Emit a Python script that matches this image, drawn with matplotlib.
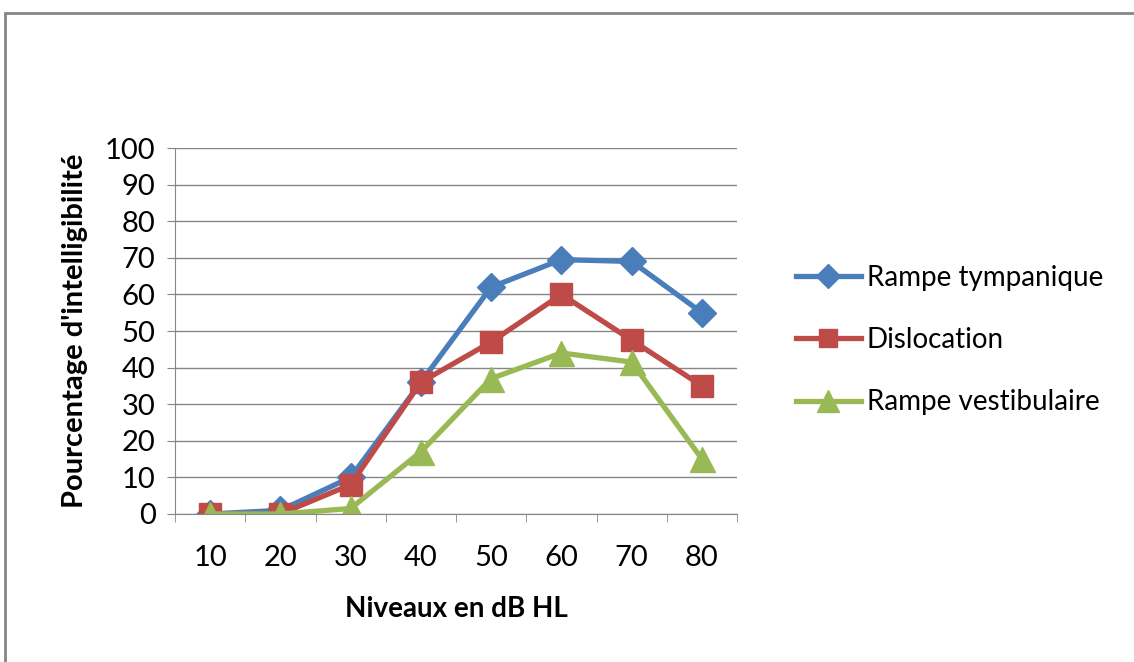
import matplotlib
matplotlib.use("Agg")
from matplotlib import pyplot as plt
from matplotlib.patches import Rectangle

niveaux = ["10", "20", "30", "40", "50", "60", "70", "80"]
tympanique = [0, 1, 10, 36, 62, 69.5, 69, 55]
dislocation = [0, 0, 8, 36, 47, 60, 47.5, 35]
vestibulaire = [0, 0, 1.5, 17, 37, 44, 41.5, 15]

plt.rcParams['font.family'] = ['Lato', 'DejaVu Sans']

fig = plt.figure(figsize=(11.34, 6.62), dpi=100)
fig.patches.append(Rectangle((0.004, -0.1), 1.2, 1.08, transform=fig.transFigure,
                             fill=False, edgecolor='#868686', linewidth=2))

ax = fig.add_axes([0.1543, 0.2236, 0.4957, 0.5528])
x = list(range(len(niveaux)))

ax.plot(x, tympanique, color='#4a7ebb', lw=3.8, marker='D', ms=14,
        label='Rampe tympanique')
ax.plot(x, dislocation, color='#be4b48', lw=3.8, marker='s', ms=16,
        label='Dislocation')
ax.plot(x, vestibulaire, color='#98b954', lw=3.8, marker='^', ms=18,
        label='Rampe vestibulaire')

ax.set_xlim(-0.5, len(niveaux) - 0.5)
ax.set_ylim(0, 100)
ax.set_yticks(range(0, 101, 10))
ax.set_xticks(x)
ax.set_xticklabels(niveaux)
ax.set_xticks([i - 0.5 for i in range(len(niveaux) + 1)], minor=True)
ax.tick_params(axis='x', which='major', length=0, pad=22, labelsize=21)
ax.tick_params(axis='x', which='minor', length=6, color='#868686', direction='out')
ax.tick_params(axis='y', length=6, color='#868686', pad=8, labelsize=21)
ax.yaxis.grid(True, color='#868686', lw=1)
ax.set_axisbelow(True)
for s in ['top', 'right']:
    ax.spines[s].set_visible(False)
for s in ['left', 'bottom']:
    ax.spines[s].set_color('#868686')

ax.set_xlabel('Niveaux en dB HL', fontsize=20, fontweight='bold', labelpad=18)
ax.set_ylabel("Pourcentage d'intelligibilité", fontsize=21, fontweight='bold', labelpad=12)

ax.legend(loc='center left', bbox_to_anchor=(1.06, 0.475), frameon=False, fontsize=20,
          handlelength=2.35, handletextpad=0.2, labelspacing=1.3, markerscale=0.85)

fig.savefig('out.png', dpi=100)
